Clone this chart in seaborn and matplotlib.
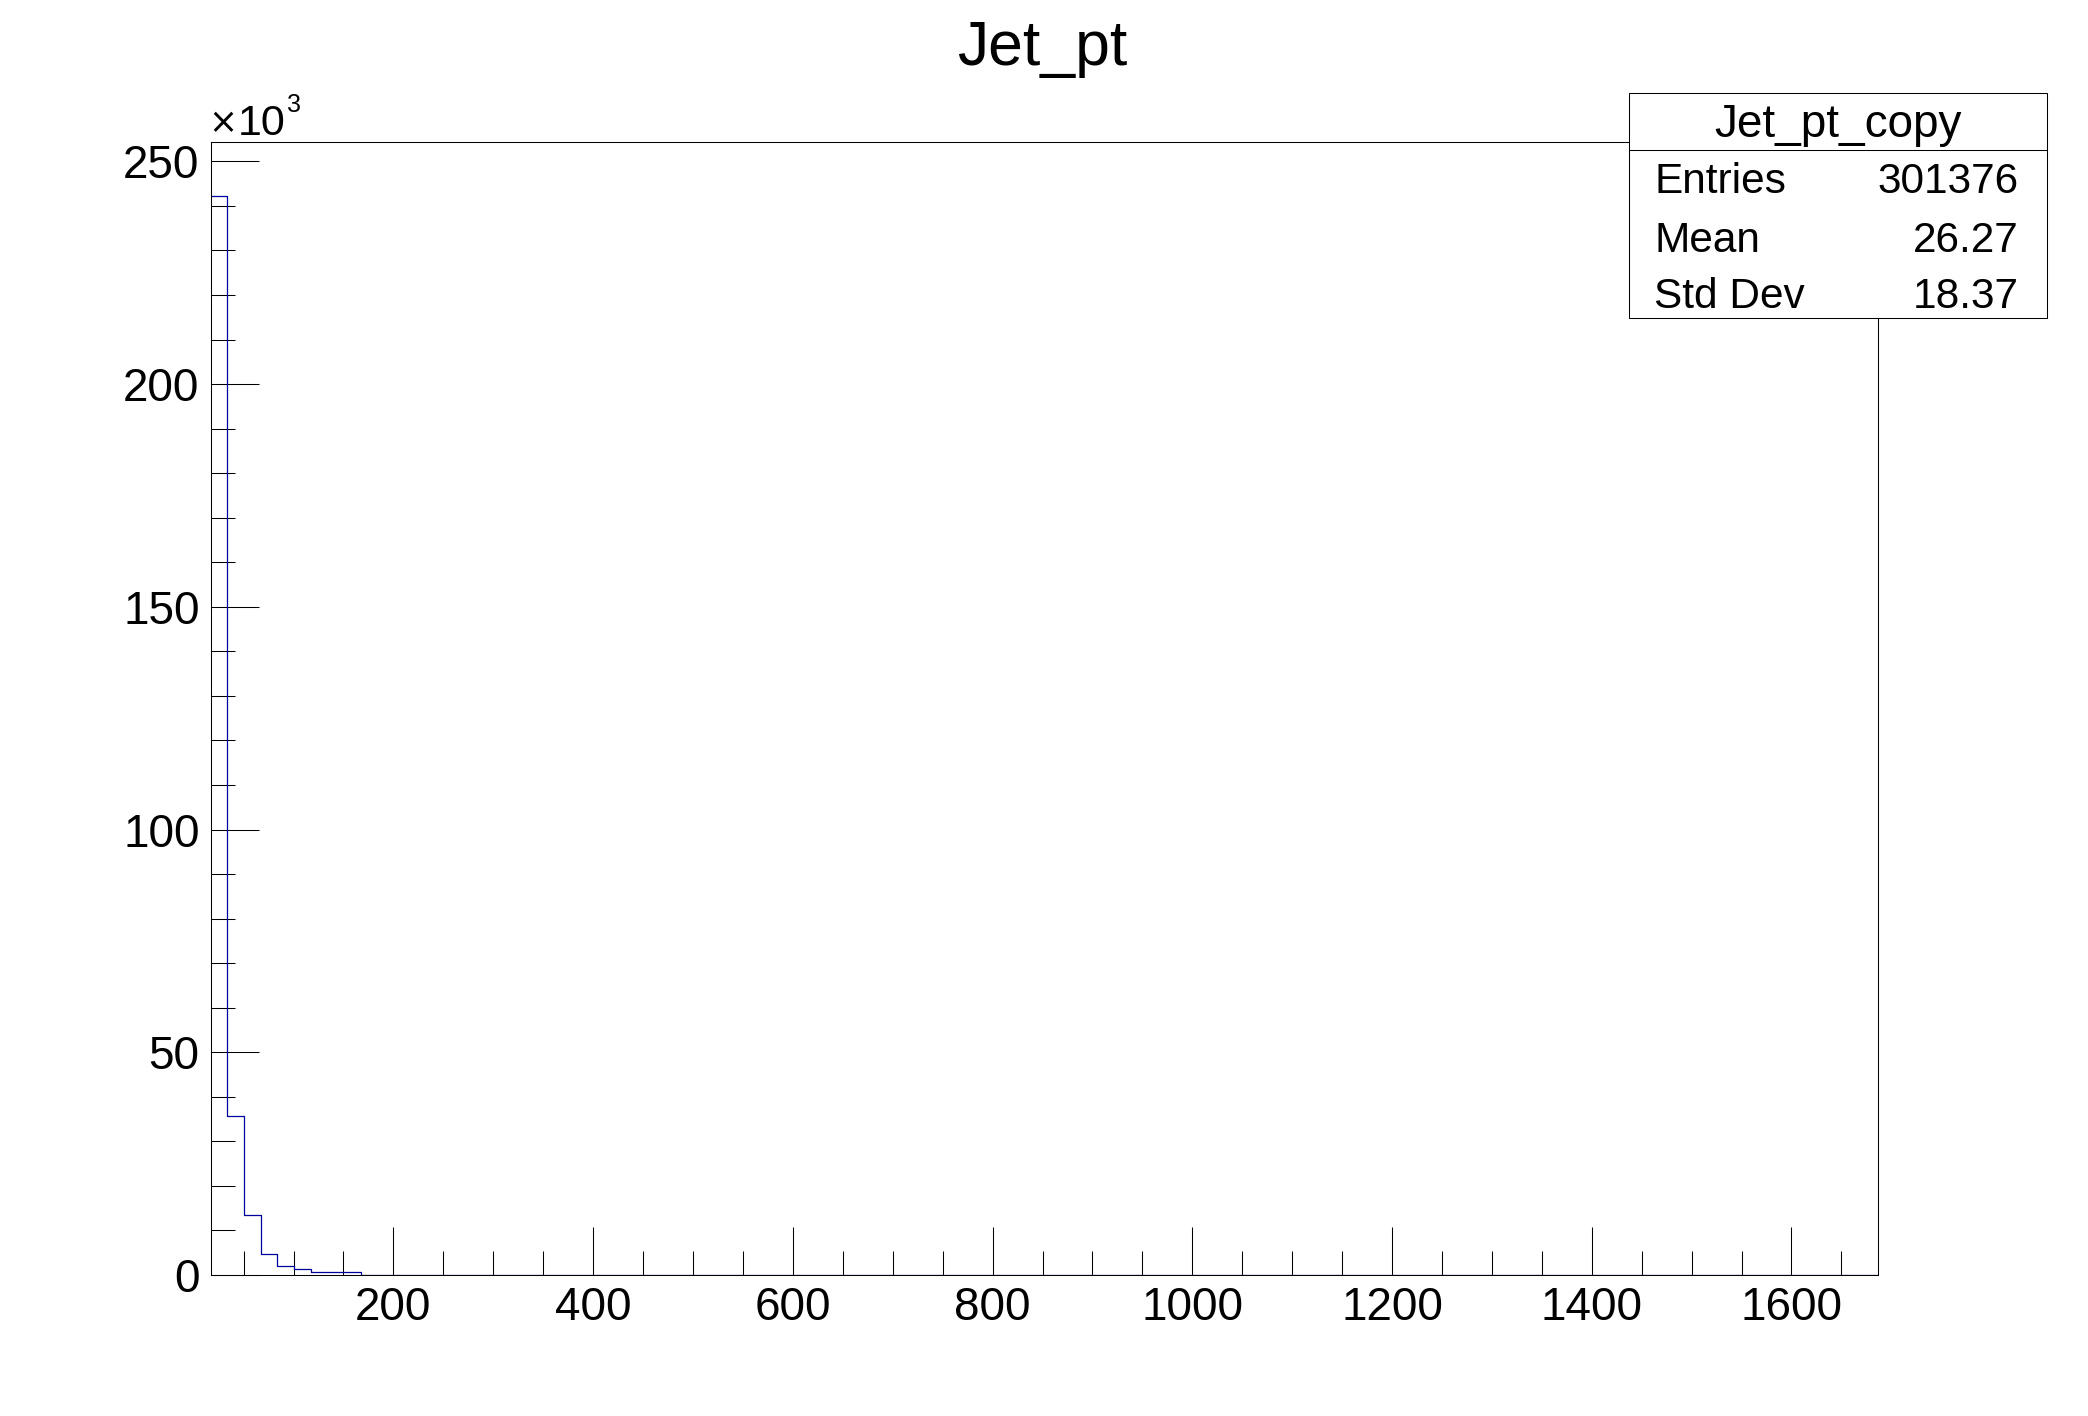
import matplotlib.pyplot as plt
import numpy as np
import pandas as pd
import seaborn as sns
from matplotlib.lines import Line2D
from matplotlib.patches import Rectangle
from matplotlib.ticker import MultipleLocator

## Data
x_min, x_max, n_bins = 17.0, 1687.0, 100
counts_head = [242300, 35600, 13450, 4650, 1950, 1300, 760, 660, 580,
               40, 28, 18, 12, 9, 7, 5, 3, 2, 1, 1]
counts = counts_head + [0] * (n_bins - len(counts_head))

x_ticks = [200, 400, 600, 800, 1000, 1200, 1400, 1600]
y_ticks = [0, 50000, 100000, 150000, 200000, 250000]
y_tick_labels = ["0", "50", "100", "150", "200", "250"]

title = "Jet_pt"
stats_title = "Jet_pt_copy"
stats_labels = ["Entries", "Mean", "Std Dev"]
stats_values = ["301376", "26.27", "18.37"]

sns.set_style("ticks")
plt.rcParams["font.family"] = ["Liberation Sans", "DejaVu Sans"]
plt.rcParams["text.color"] = "black"

W, H = 2088, 1416
fig = plt.figure(figsize=(W / 100, H / 100), dpi=100)
ax = fig.add_axes([0.1009, 0.0996, 0.7987, 0.8003])

bin_w = (x_max - x_min) / n_bins
centers = x_min + bin_w * (np.arange(n_bins) + 0.5)
hist = pd.DataFrame({"pt": centers, "count": counts})

sns.histplot(data=hist, x="pt", weights="count", binwidth=bin_w,
             binrange=(x_min, x_max), element="step", fill=False,
             color="#00009c", linewidth=0.9, ax=ax)

ax.set_xlim(x_min, x_max)
ax.set_ylim(0, 1.05 * max(counts))
ax.set_xlabel("")
ax.set_ylabel("")

ax.set_xticks(x_ticks)
ax.set_yticks(y_ticks)
ax.set_yticklabels(y_tick_labels)
ax.xaxis.set_minor_locator(MultipleLocator(50))
ax.yaxis.set_minor_locator(MultipleLocator(10000))

ax.tick_params(which="both", direction="in", width=0.75, top=False,
               right=False, colors="black")
ax.tick_params(which="major", length=34.5, labelsize=33, pad=8)
ax.tick_params(which="minor", length=17.3)
for s in ax.spines.values():
    s.set_visible(True)
    s.set_linewidth(0.75)
    s.set_color("black")

# title and the x10^3 exponent
fig.text(1042 / W, 1 - 65 / H, title, ha="center", va="baseline", fontsize=45)
fig.text(208 / W, 1 - 133 / H, "\u00d7", ha="left", va="baseline", fontsize=25,
         family=["DejaVu Sans"])
fig.text(238 / W, 1 - 135 / H, "10", ha="left", va="baseline", fontsize=31)
fig.text(287 / W, 1 - 112.5 / H, "3", ha="left", va="baseline", fontsize=18)

# stats box
bx0, bx1, by0, by1 = 1629.3, 2046.7, 93.3, 317.7
fig.patches.append(Rectangle((bx0 / W, 1 - by1 / H), (bx1 - bx0) / W,
                             (by1 - by0) / H, transform=fig.transFigure,
                             facecolor="white", edgecolor="black",
                             linewidth=0.75, zorder=5))
fig.lines.append(Line2D([bx0 / W, bx1 / W], [1 - 150 / H, 1 - 150 / H],
                        transform=fig.transFigure, color="black",
                        linewidth=0.75, zorder=6))
fig.text((bx0 + bx1) / 2 / W, 1 - 136.7 / H, stats_title, ha="center",
         va="baseline", fontsize=33, zorder=7)
row_base = [192.7, 251.7, 308.0]
for lab, val, yb in zip(stats_labels, stats_values, row_base):
    fig.text(1654 / W, 1 - yb / H, lab, ha="left", va="baseline",
             fontsize=30.5, zorder=7)
    fig.text(2018.3 / W, 1 - yb / H, val, ha="right", va="baseline",
             fontsize=30.5, zorder=7)

fig.savefig("out.png", dpi=100)
